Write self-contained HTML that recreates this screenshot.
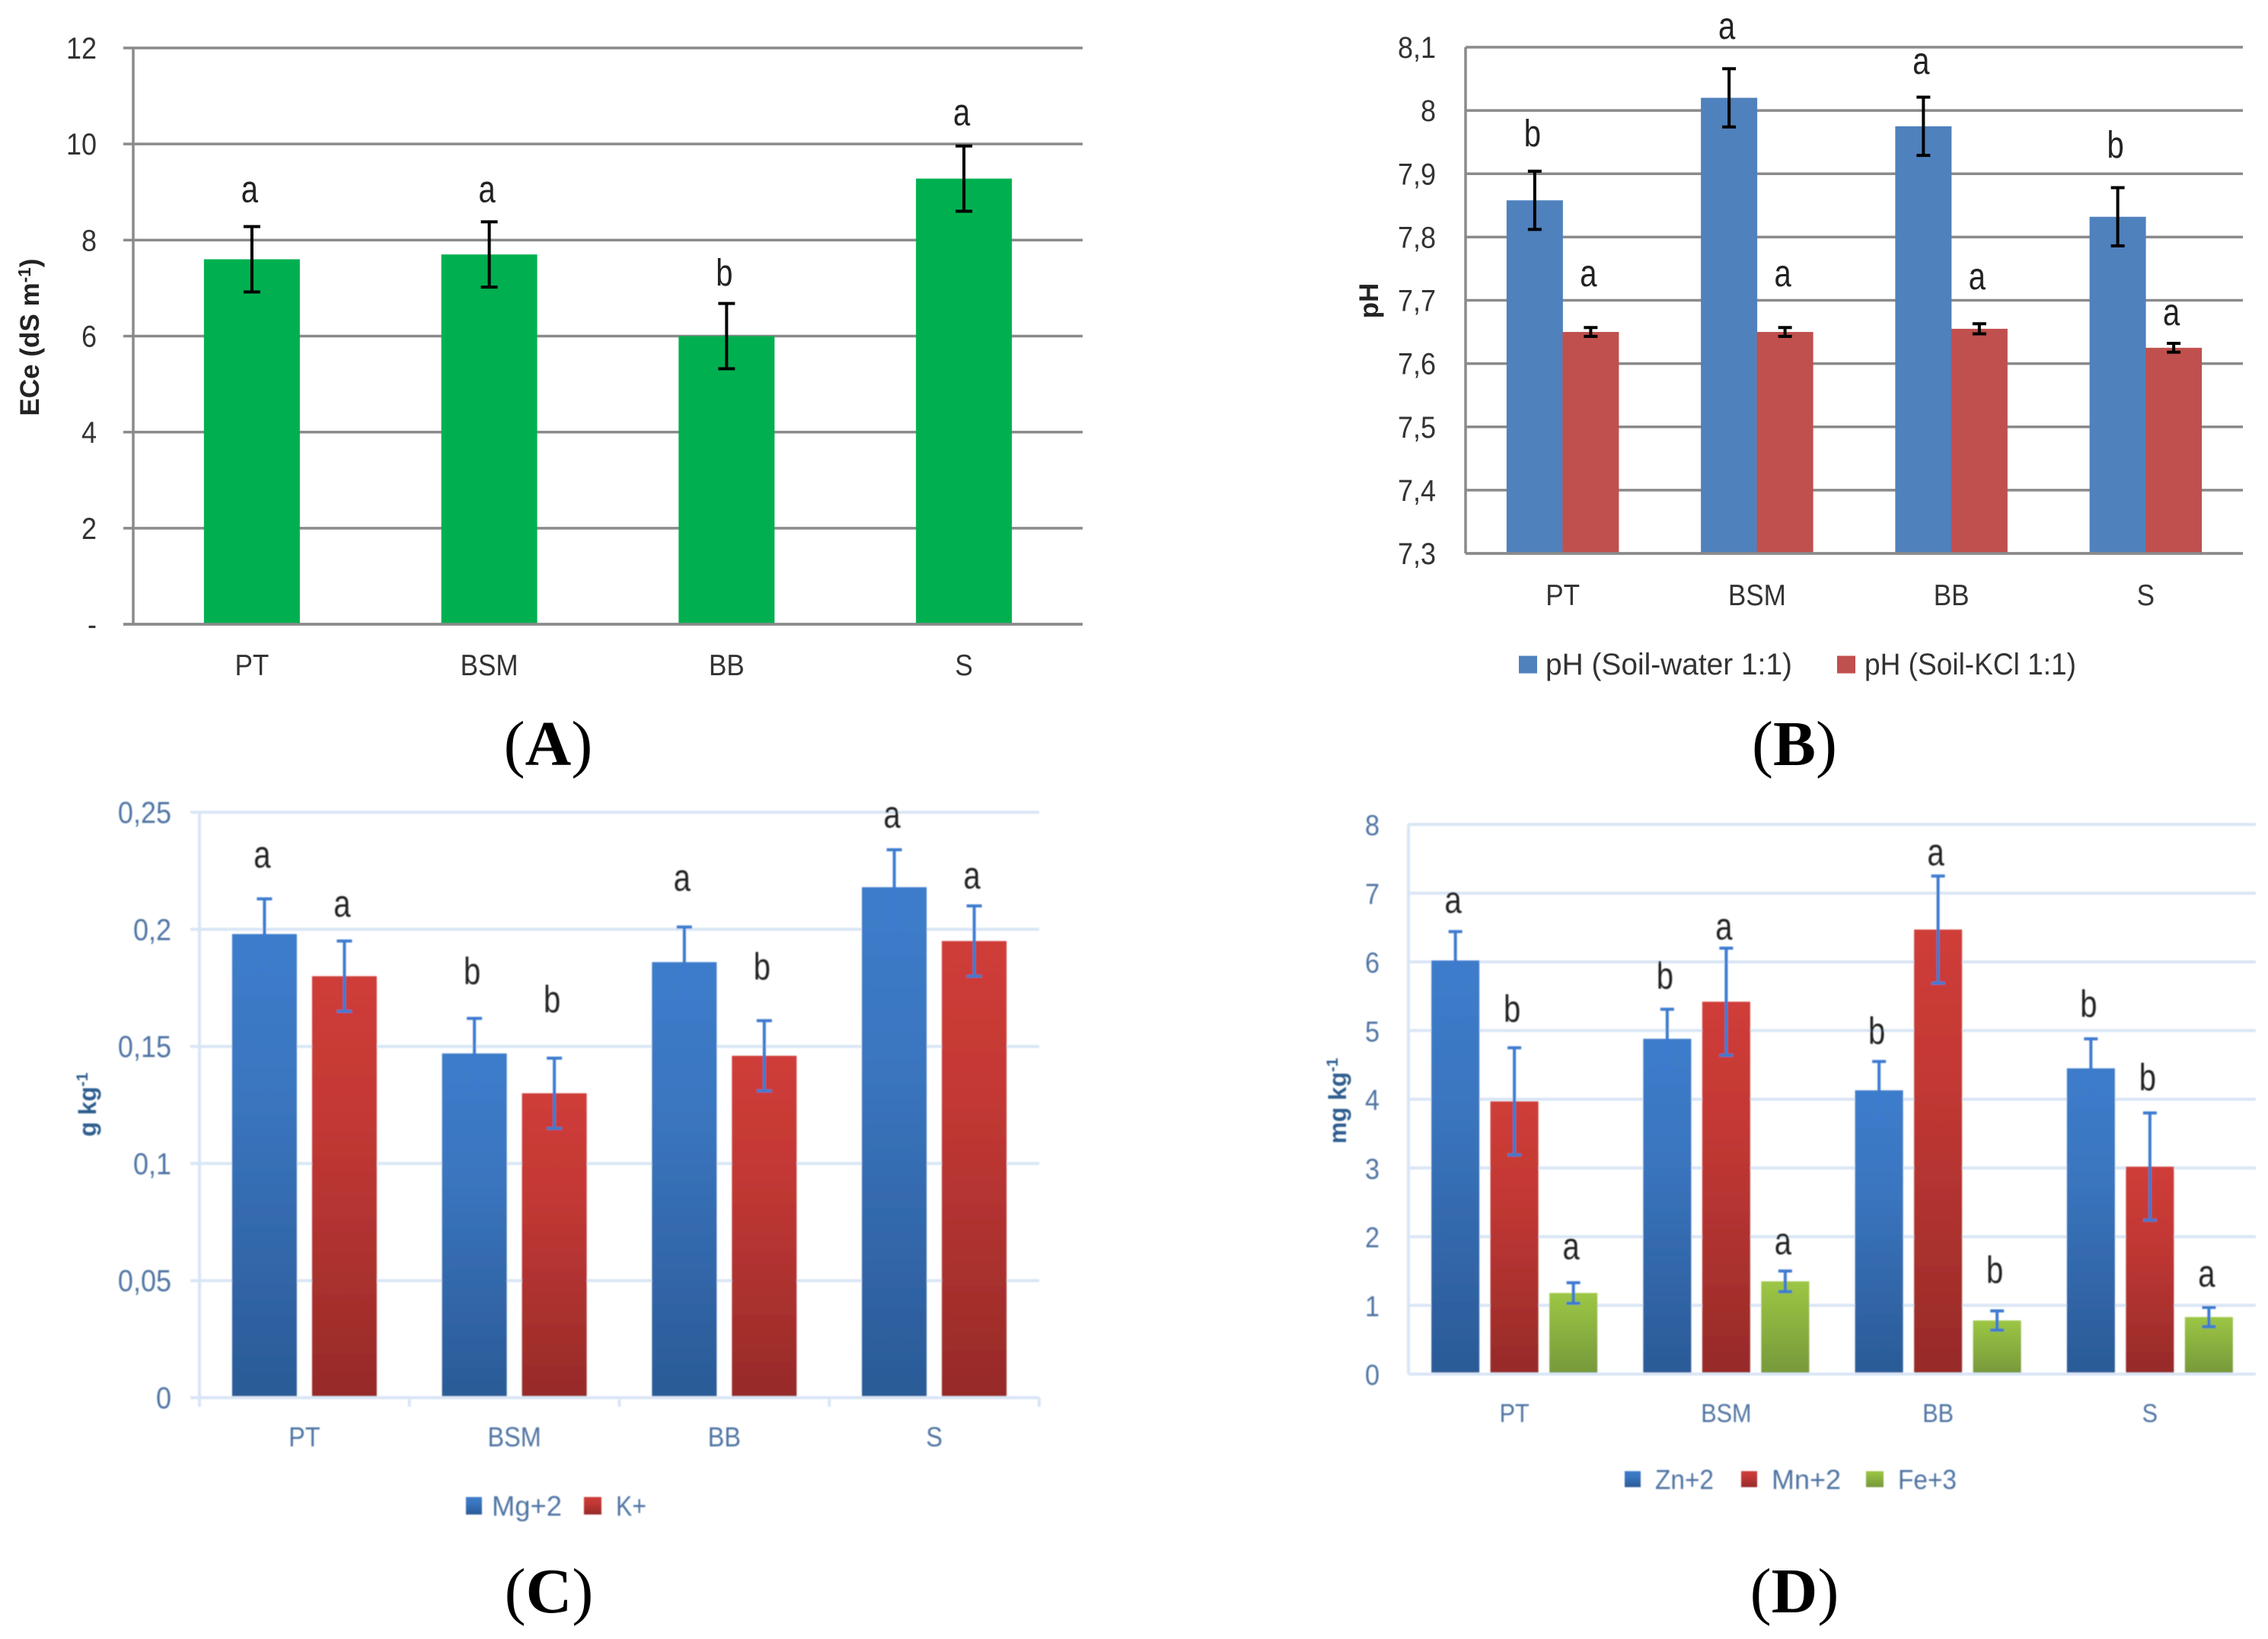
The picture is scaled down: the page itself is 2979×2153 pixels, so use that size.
<!DOCTYPE html>
<html lang="en">
<head>
<meta charset="utf-8">
<title>Soil chemistry bar charts</title>
<style>
  html, body { margin: 0; padding: 0; background: #fff; }
  svg { display: block; }
  text { font-family: "Liberation Sans", sans-serif; }
  .panel-label { font-family: "Liberation Serif", serif; font-size: 84px; fill: #000; }
</style>
</head>
<body>
<svg id="figure" xmlns="http://www.w3.org/2000/svg" width="2979" height="2153" viewBox="0 0 2979 2153">
  <defs>
    <linearGradient id="grad-blue" x1="0" y1="0" x2="0" y2="1"><stop offset="0" stop-color="#3c7ccb"/><stop offset="0.35" stop-color="#3a75bf"/><stop offset="1" stop-color="#2a5a96"/></linearGradient>
    <linearGradient id="grad-red" x1="0" y1="0" x2="0" y2="1"><stop offset="0" stop-color="#cf3c38"/><stop offset="0.35" stop-color="#c23834"/><stop offset="1" stop-color="#962a28"/></linearGradient>
    <linearGradient id="grad-green" x1="0" y1="0" x2="0" y2="1"><stop offset="0" stop-color="#9cc644"/><stop offset="1" stop-color="#76983a"/></linearGradient>
    <filter id="soft" x="-5%" y="-5%" width="110%" height="110%"><feGaussianBlur stdDeviation="0.9"/></filter>
  </defs>
  <g id="chart-a"></g>
  <g id="chart-b"></g>
  <g id="chart-c" filter="url(#soft)"></g>
  <g id="chart-d" filter="url(#soft)"></g>
  <text class="panel-label" x="720" y="1005" text-anchor="middle">(<tspan font-weight="bold">A</tspan>)</text>
  <text class="panel-label" x="2357" y="1005" text-anchor="middle">(<tspan font-weight="bold">B</tspan>)</text>
  <text class="panel-label" x="721" y="2118" text-anchor="middle">(<tspan font-weight="bold">C</tspan>)</text>
  <text class="panel-label" x="2357" y="2118" text-anchor="middle">(<tspan font-weight="bold">D</tspan>)</text>
</svg>
<script>
const categories = ['PT', 'BSM', 'BB', 'S'];

const ecTickValues = [0, 2, 4, 6, 8, 10, 12];
const ecTickLabels = ['-', '2', '4', '6', '8', '10', '12'];
const ecValues = [7.6, 7.7, 6.0, 9.28];
const ecErrors = [0.68, 0.68, 0.68, 0.68];
const ecLetters = ['a', 'a', 'b', 'a'];
const ecLetterGaps = [0.73, 0.63, 0.59, 0.65];

const phTickValues = [7.3, 7.4, 7.5, 7.6, 7.7, 7.8, 7.9, 8.0, 8.1];
const phTickLabels = ['7,3', '7,4', '7,5', '7,6', '7,7', '7,8', '7,9', '8', '8,1'];
const phWaterValues = [7.858, 8.02, 7.975, 7.832];
const phWaterErrors = [0.046, 0.046, 0.046, 0.046];
const phWaterLetters = ['b', 'a', 'a', 'b'];
const phWaterLetterGaps = [0.056, 0.064, 0.054, 0.064];
const phKclValues = [7.65, 7.65, 7.655, 7.625];
const phKclErrors = [0.007, 0.007, 0.008, 0.007];
const phKclLetters = ['a', 'a', 'a', 'a'];
const phKclLetterGaps = [0.082, 0.082, 0.071, 0.046];

const cationTickValues = [0, 0.05, 0.1, 0.15, 0.2, 0.25];
const cationTickLabels = ['0', '0,05', '0,1', '0,15', '0,2', '0,25'];
const mgValues = [0.198, 0.147, 0.186, 0.218];
const mgErrors = [0.015, 0.015, 0.015, 0.016];
const mgLetters = ['a', 'b', 'a', 'a'];
const mgLetterGaps = [0.018, 0.019, 0.020, 0.014];
const kValues = [0.18, 0.13, 0.146, 0.195];
const kErrors = [0.015, 0.015, 0.015, 0.015];
const kLetters = ['a', 'b', 'b', 'a'];
const kLetterGaps = [0.015, 0.024, 0.022, 0.012];

const microTickValues = [0, 1, 2, 3, 4, 5, 6, 7, 8];
const microTickLabels = ['0', '1', '2', '3', '4', '5', '6', '7', '8'];
const znValues = [6.02, 4.88, 4.13, 4.45];
const znErrors = [0.42, 0.43, 0.42, 0.43];
const znLetters = ['a', 'b', 'b', 'b'];
const znLetterGaps = [0.43, 0.45, 0.41, 0.47];
const mnValues = [3.97, 5.42, 6.47, 3.02];
const mnErrors = [0.78, 0.78, 0.78, 0.78];
const mnLetters = ['b', 'a', 'a', 'b'];
const mnLetterGaps = [0.53, 0.28, 0.31, 0.48];
const feValues = [1.18, 1.35, 0.78, 0.83];
const feErrors = [0.15, 0.15, 0.14, 0.14];
const feLetters = ['a', 'a', 'b', 'a'];
const feLetterGaps = [0.5, 0.4, 0.56, 0.46];

const SVG_NS = 'http://www.w3.org/2000/svg';

function make(parent, tag, attrs, content) {
  const el = document.createElementNS(SVG_NS, tag);
  for (const key in attrs) el.setAttribute(key, attrs[key]);
  if (content !== undefined) el.textContent = content;
  parent.appendChild(el);
  return el;
}

function squeeze(el, factor) {
  el.setAttribute('textLength', el.getComputedTextLength() * factor);
  el.setAttribute('lengthAdjust', 'spacingAndGlyphs');
}

function drawChart(cfg) {
  const root = document.getElementById(cfg.id);
  const min = cfg.tickValues[0];
  const max = cfg.tickValues[cfg.tickValues.length - 1];
  const y = v => cfg.bottom - (v - min) / (max - min) * (cfg.bottom - cfg.top);
  const band = (cfg.right - cfg.left) / cfg.categories.length;
  const xCenter = i => cfg.left + band * (i + 0.5);
  const seriesOffset = s => (s - (cfg.series.length - 1) / 2) * cfg.barStep;

  cfg.tickValues.forEach((v, i) => {
    const grid = make(root, 'line', { x1: cfg.gridStart, x2: cfg.right, y1: y(v), y2: y(v), stroke: cfg.gridColor, 'stroke-width': cfg.gridWidth });
    
    
    const tick = make(root, 'text', { x: cfg.tickX, y: y(v) + 14, 'text-anchor': 'end', 'font-size': cfg.tickSize, fill: cfg.textColor }, cfg.tickLabels[i]);
    
    
    squeeze(tick, 0.9);
  });

  const yAxis = make(root, 'line', { x1: cfg.left, x2: cfg.left, y1: cfg.top, y2: cfg.bottom, stroke: cfg.gridColor, 'stroke-width': cfg.gridWidth });
  
  

  if (cfg.xTicks) {
    for (let i = 0; i <= cfg.categories.length; i++) {
      const t = make(root, 'line', { x1: cfg.left + band * i, x2: cfg.left + band * i, y1: cfg.bottom, y2: cfg.bottom + 12, stroke: cfg.gridColor, 'stroke-width': 4 });
      
      
    }
  }

  cfg.series.forEach((s, si) => {
    s.values.forEach((v, i) => {
      const bx = xCenter(i) + seriesOffset(si) - cfg.barWidth / 2;
      const bar = make(root, 'rect', { x: bx, y: y(v), width: cfg.barWidth, height: y(min) - y(v), fill: s.fill });
      
      
    });
  });

  const base = make(root, 'line', { x1: cfg.gridStart, x2: cfg.right, y1: cfg.bottom, y2: cfg.bottom, stroke: cfg.gridColor, 'stroke-width': cfg.gridWidth });
  
  

  cfg.series.forEach((s, si) => {
    s.values.forEach((v, i) => {
      const ex = xCenter(i) + seriesOffset(si);
      const hi = v + s.errors[i];
      const lo = v - s.errors[i];
      const g = make(root, 'g', {});
      
      
      make(g, 'line', { x1: ex, x2: ex, y1: y(hi), y2: y(lo), stroke: cfg.errColor, 'stroke-width': cfg.errWidth });
      make(g, 'line', { x1: ex - cfg.capHalf, x2: ex + cfg.capHalf, y1: y(hi), y2: y(hi), stroke: cfg.errColor, 'stroke-width': cfg.errWidth });
      make(g, 'line', { x1: ex - cfg.capHalf, x2: ex + cfg.capHalf, y1: y(lo), y2: y(lo), stroke: cfg.errColor, 'stroke-width': cfg.errWidth });
      const letter = make(root, 'text', { x: ex - 3, y: y(hi + s.gaps[i]) + 14, 'text-anchor': 'middle', 'font-size': cfg.letterSize, fill: '#222' }, s.letters[i]);
      
      
      squeeze(letter, 0.8);
    });
  });

  cfg.categories.forEach((c, i) => {
    const label = make(root, 'text', { x: xCenter(i), y: cfg.catY, 'text-anchor': 'middle', 'font-size': cfg.catSize, fill: cfg.textColor }, c);
    
    
    squeeze(label, 0.9);
  });

  const title = make(root, 'text', { transform: 'translate(' + cfg.titleX + ' ' + cfg.titleY + ') rotate(-90)', 'text-anchor': 'middle', 'font-size': cfg.titleSize, 'font-weight': 'bold', fill: cfg.titleColor }, cfg.title);
  
  
  if (cfg.titleSup) {
    const sup = make(title, 'tspan', { dy: -11, 'font-size': cfg.titleSize * 0.65 }, cfg.titleSup);
    
    
  }
  if (cfg.titleEnd) make(title, 'tspan', { dy: 11 }, cfg.titleEnd);

  cfg.legend.forEach(item => {
    const swatch = make(root, 'rect', { x: item.sx, y: cfg.legendY - cfg.swatch / 2, width: item.sw, height: cfg.swatch, fill: item.fill });
    
    
    const text = make(root, 'text', { x: item.tx, y: cfg.legendY + 13, 'font-size': cfg.legendSize, fill: cfg.textColor, textLength: item.tw, lengthAdjust: 'spacingAndGlyphs' }, item.label);
    
    
  });
}

drawChart({
  id: 'chart-a', categories, tickValues: ecTickValues, tickLabels: ecTickLabels,
  top: 63, bottom: 820, left: 175, right: 1422, gridStart: 162, gridColor: '#8a8a8a', gridWidth: 3.5,
  tickX: 127, tickSize: 40, textColor: '#333', barWidth: 126, barStep: 0, errColor: '#000', errWidth: 4, capHalf: 11,
  letterSize: 50, catY: 887, catSize: 39, title: 'ECe  (dS m', titleSup: '-1', titleEnd: ')', titleX: 51, titleY: 443, titleSize: 35, titleColor: '#222',
  series: [{ key: 'ece', values: ecValues, errors: ecErrors, letters: ecLetters, gaps: ecLetterGaps, fill: '#00b050' }],
  legend: [], legendY: 0, swatch: 0, legendSize: 0
});

drawChart({
  id: 'chart-b', categories, tickValues: phTickValues, tickLabels: phTickLabels,
  top: 62, bottom: 727, left: 1925, right: 2946, gridStart: 1925, gridColor: '#8a8a8a', gridWidth: 3.5,
  tickX: 1886, tickSize: 40, textColor: '#333', barWidth: 74, barStep: 73.5, errColor: '#000', errWidth: 4, capHalf: 9,
  letterSize: 50, catY: 795, catSize: 39, title: 'pH', titleX: 1810, titleY: 395, titleSize: 35, titleColor: '#222',
  series: [
    { key: 'soil-water', values: phWaterValues, errors: phWaterErrors, letters: phWaterLetters, gaps: phWaterLetterGaps, fill: '#4f81bd' },
    { key: 'soil-kcl', values: phKclValues, errors: phKclErrors, letters: phKclLetters, gaps: phKclLetterGaps, fill: '#c0504d' }
  ],
  legend: [
    { sx: 1995, sw: 24, fill: '#4f81bd', tx: 2030, tw: 324, label: 'pH (Soil-water 1:1)' },
    { sx: 2413, sw: 24, fill: '#c0504d', tx: 2449, tw: 278, label: 'pH (Soil-KCl 1:1)' }
  ],
  legendY: 873, swatch: 23, legendSize: 40
});

drawChart({
  id: 'chart-c', categories, tickValues: cationTickValues, tickLabels: cationTickLabels,
  top: 1067, bottom: 1836, left: 262, right: 1365, gridStart: 250, gridColor: '#d9e6f6', gridWidth: 4,
  tickX: 225, tickSize: 40, textColor: '#4f75a3', barWidth: 85, barStep: 105, errColor: '#3c7ad0', errWidth: 4, capHalf: 10, xTicks: true,
  letterSize: 50, catY: 1900, catSize: 36, title: 'g kg', titleSup: '-1', titleX: 126, titleY: 1451, titleSize: 32, titleColor: '#2f5d8f',
  series: [
    { key: 'mg', values: mgValues, errors: mgErrors, letters: mgLetters, gaps: mgLetterGaps, fill: 'url(#grad-blue)' },
    { key: 'k', values: kValues, errors: kErrors, letters: kLetters, gaps: kLetterGaps, fill: 'url(#grad-red)' }
  ],
  legend: [
    { sx: 612, sw: 21, fill: 'url(#grad-blue)', tx: 646, tw: 92, label: 'Mg+2' },
    { sx: 767, sw: 23, fill: 'url(#grad-red)', tx: 809, tw: 40, label: 'K+' }
  ],
  legendY: 1978, swatch: 23, legendSize: 37
});

drawChart({
  id: 'chart-d', categories, tickValues: microTickValues, tickLabels: microTickLabels,
  top: 1083, bottom: 1805, left: 1850, right: 2963, gridStart: 1850, gridColor: '#d9e6f6', gridWidth: 4,
  tickX: 1812, tickSize: 38, textColor: '#4f75a3', barWidth: 63, barStep: 77.5, errColor: '#3c7ad0', errWidth: 4, capHalf: 9,
  letterSize: 50, catY: 1868, catSize: 34, title: 'mg kg', titleSup: '-1', titleX: 1768, titleY: 1446, titleSize: 32, titleColor: '#2f5d8f',
  series: [
    { key: 'zn', values: znValues, errors: znErrors, letters: znLetters, gaps: znLetterGaps, fill: 'url(#grad-blue)' },
    { key: 'mn', values: mnValues, errors: mnErrors, letters: mnLetters, gaps: mnLetterGaps, fill: 'url(#grad-red)' },
    { key: 'fe', values: feValues, errors: feErrors, letters: feLetters, gaps: feLetterGaps, fill: 'url(#grad-green)' }
  ],
  legend: [
    { sx: 2134, sw: 21, fill: 'url(#grad-blue)', tx: 2174, tw: 77, label: 'Zn+2' },
    { sx: 2287, sw: 21, fill: 'url(#grad-red)', tx: 2327, tw: 91, label: 'Mn+2' },
    { sx: 2451, sw: 23, fill: 'url(#grad-green)', tx: 2493, tw: 77, label: 'Fe+3' }
  ],
  legendY: 1943, swatch: 21, legendSize: 36
});
</script>
</body>
</html>
